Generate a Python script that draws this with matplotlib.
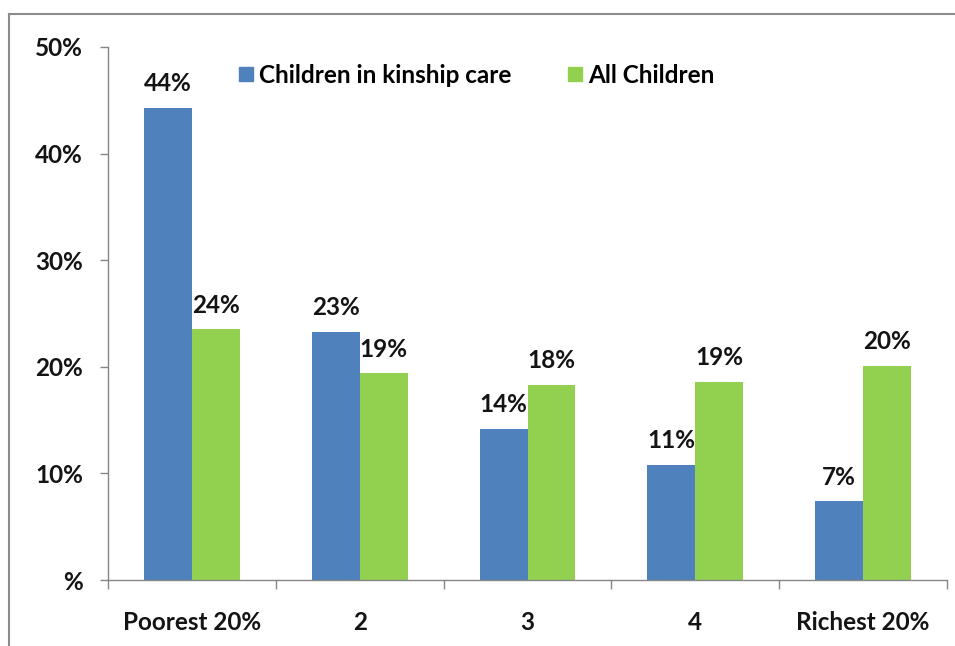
import matplotlib
matplotlib.use("Agg")
import matplotlib.pyplot as plt
from matplotlib.lines import Line2D
import numpy as np

# Share of children in each wealth quintile (percent)
categories = ["Poorest 20%", "2", "3", "4", "Richest 20%"]
kinship_care = [44.3, 23.3, 14.2, 10.8, 7.4]
all_children = [23.5, 19.4, 18.3, 18.6, 20.1]
series_names = ["Children in kinship care", "All Children"]
y_ticks = [0, 10, 20, 30, 40, 50]
y_tick_labels = ["%", "10%", "20%", "30%", "40%", "50%"]

BLUE = "#4F81BD"
GREEN = "#92D050"
AXIS_GRAY = "#868686"
TEXT = "#141414"
FS = 17.5

plt.rcParams["font.family"] = ["Lato", "DejaVu Sans"]
plt.rcParams["font.weight"] = "bold"

fig = plt.figure(figsize=(9.55, 6.46), dpi=100)
ax = fig.add_axes([108 / 955, 1 - 580 / 646, (947 - 108) / 955, (580 - 47) / 646])

x = np.arange(len(categories))
width = 0.286
b1 = ax.bar(x - width / 2, kinship_care, width, color=BLUE, label=series_names[0])
b2 = ax.bar(x + width / 2, all_children, width, color=GREEN, label=series_names[1])

for bars, vals in ((b1, kinship_care), (b2, all_children)):
    for rect, v in zip(bars, vals):
        ax.annotate(f"{v:.0f}%", (rect.get_x() + rect.get_width() / 2, v),
                    xytext=(0, 9), textcoords="offset points",
                    ha="center", va="bottom", fontsize=FS, fontweight="bold",
                    color=TEXT)

ax.set_xlim(-0.5, len(categories) - 0.5)
ax.set_ylim(0, 50)
ax.set_yticks(y_ticks)
ax.set_yticklabels(y_tick_labels, fontsize=FS, fontweight="bold", color=TEXT)
ax.tick_params(axis="y", length=6, width=1, color=AXIS_GRAY, pad=12)

# category boundaries carry the tick marks, names sit centred below
ax.set_xticks(np.arange(len(categories) + 1) - 0.5)
ax.set_xticklabels([])
ax.tick_params(axis="x", which="major", length=6.5, width=1, color=AXIS_GRAY)
ax.set_xticks(x, minor=True)
ax.set_xticklabels(categories, minor=True, fontsize=FS, fontweight="bold", color=TEXT)
ax.tick_params(axis="x", which="minor", length=0, pad=22)

for side in ("top", "right"):
    ax.spines[side].set_visible(False)
for side in ("left", "bottom"):
    ax.spines[side].set_color(AXIS_GRAY)
    ax.spines[side].set_linewidth(1)

handles = [Line2D([], [], marker="s", linestyle="none", markersize=10,
                  markerfacecolor=c, markeredgecolor=c) for c in (BLUE, GREEN)]
ax.legend(handles, series_names, ncol=2, frameon=False, loc="upper left",
          bbox_to_anchor=(0.124, 1.01), handletextpad=0.05, handlelength=1.0,
          columnspacing=2.1, prop={"weight": "bold", "size": FS})

# outer frame lines
fig.add_artist(Line2D([9 / 955, 1], [1 - 14 / 646] * 2, color="#8c8c8c", lw=1.5,
                      transform=fig.transFigure))
fig.add_artist(Line2D([9 / 955] * 2, [0, 1 - 14 / 646], color="#8c8c8c", lw=1.5,
                      transform=fig.transFigure))

fig.savefig("out.png", dpi=100, facecolor="white")
